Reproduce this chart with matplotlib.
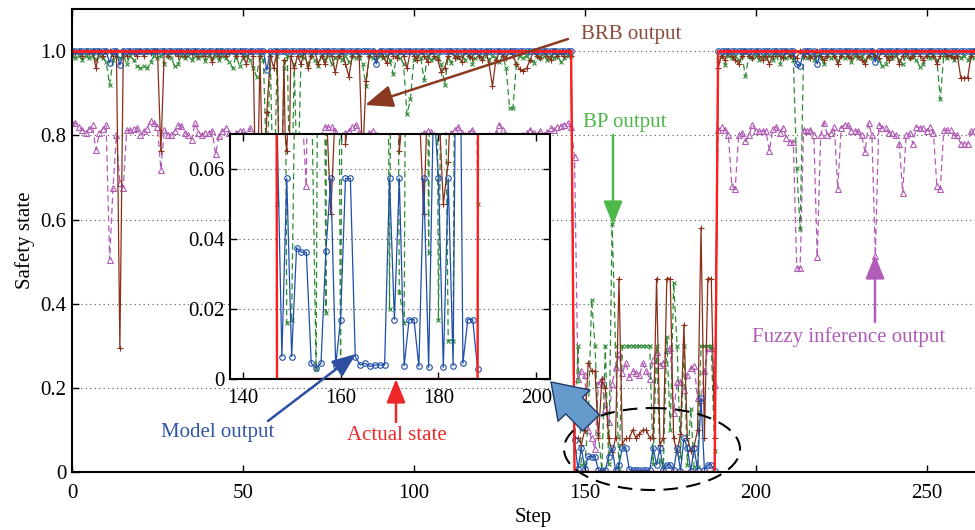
import numpy as np
import matplotlib
matplotlib.use('Agg')
import matplotlib.pyplot as plt
from matplotlib.patches import Ellipse

plt.rcParams['font.family'] = ['Liberation Serif', 'DejaVu Serif']

# data, one value per step (0..264)
# each series is split: before the fault (0-146), fault (147-188), after (189-264)
actual_a = [1] * 147
actual_b = [0] * 42
actual_c = [1] * 76

model_a = [1, 1, 1, 1, 1, 1, 1, 1, 1, 1, 1, .973, 1, 1, .967, 1, 1, 1, 1, 1,
           1, 1, 1, 1, 1, 1, 1, 1, 1, 1, 1, 1, 1, 1, 1, 1, 1, 1, 1, 1,
           1, 1, 1, 1, 1, 1, 1, 1, 1, 1, 1, 1, 1, 1, 1, 1, 1, .955, 1, 1,
           1, 1, 1, 1, 1, 1, 1, 1, 1, 1, 1, 1, 1, 1, 1, 1, 1, 1, 1, 1,
           1, 1, 1, 1, 1, 1, 1, 1, 1, .97, 1, 1, 1, 1, 1, 1, 1, 1, 1, 1,
           1, 1, 1, 1, 1, 1, 1, 1, 1, 1, 1, 1, 1, 1, 1, 1, 1, 1, 1, 1,
           1, 1, 1, 1, 1, 1, 1, 1, 1, 1, 1, 1, 1, 1, 1, 1, 1, 1, 1, 1,
           1, 1, 1, 1, 1, 1, 1]
model_b = [.075, .0064, .0573, .0064, .0375, .0362, .0362, .0045, .0031, .0045,
           .0367, .0573, .0038, .017, .0573, .0573, .0064, .004, .0045, .0036,
           .004, .004, .004, .0573, .017, .0573, .0038, .017, .017, .0036,
           .0573, .0033, .08, .0573, .0033, .0573, .0038, .175, .0045, .017,
           .017, .003]
model_c = [1, 1, 1, 1, 1, 1, 1, 1, 1, 1, 1, 1, 1, 1, 1, 1, 1, 1, 1, 1,
           1, 1, 1, .969, .965, 1, 1, 1, 1, .97, 1, 1, 1, 1, 1, 1, 1, 1, 1, 1,
           1, 1, 1, 1, 1, 1, .975, 1, 1, 1, 1, 1, 1, 1, 1, 1, 1, 1, 1, 1,
           1, 1, 1, 1, 1, 1, 1, 1, 1, 1, 1, 1, 1, 1, 1, 1]

brb_a = [1, .995, 1, .99, 1, .995, 1, .961, 1, .99,
         1, 1, .99, 1, .295, 1, .99, 1, .995, .99,
         1, .99, 1, .995, 1, 1, .762, 1, .99, 1,
         .995, .99, 1, .99, 1, .993, 1, .99, 1, .99,
         1, .975, 1, .99, 1, .99, .995, 1, .99, 1,
         .99, .97, 1, .99, .55, .99, .6, .856, .99, .961,
         1, .5, .98, .45, .99, .96, .99, .97, 1, .96,
         .99, 1, .97, .99, .97, 1, .99, .95, .99, 1,
         .97, .94, .99, 1, .99, .74, .93, .99, 1, .99,
         1, .99, .972, 1, .99, .985, 1, .99, .96, 1,
         .99, .98, 1, .99, .975, 1, .99, .98, .95, .96,
         .99, 1, .985, .99, .975, 1, .99, .985, 1, .99,
         .98, 1, .97, .917, .98, 1, .99, .985, 1, .99,
         .97, .957, .953, .96, .98, 1, .99, .985, 1, .99,
         .98, 1, .99, .995, .99, 1, .99]
brb_b = [.08, .08, .065, .1, .26, .24, .24, .08, .22, .2,
         .08, .047, .08, .46, .067, .08, .08, .1, .08, .09,
         .1, .1, .08, .08, .46, .065, .08, .46, .46, .08,
         .047, .09, .35, .08, .05, .062, .1, .58, .08, .46,
         .46, .08]
brb_c = [.96, .99, .98, 1, .99, .98, .97, .99, 1, .99,
         .985, 1, .99, .98, .99, .97, .99, 1, .99, .985,
         1, .99, .99, .985, 1, .99, 1, .985, .99, 1,
         .99, .98, .99, 1, .99, .97, .99, 1, .99, .985,
         1, .99, .98, .97, .99, 1, .99, .985, 1, .99,
         .98, .99, 1, .97, .99, 1, .985, .99, 1, .99,
         .98, .99, 1, .99, .97, .99, 1, .99, .99, .985,
         .99, .937, .937, .937, .99, 1]

bp_a = [.99, .985, .99, .98, .99, .985, .99, .98, .99, .985,
        .975, .92, .98, .99, .985, .99, .97, .99, .98, .965,
        .96, .965, .96, .975, .99, .985, .99, .97, .99, .985,
        .965, .97, .99, .985, .99, .98, .99, .985, .99, .977,
        .99, .985, .99, .98, .99, .985, .975, .96, .99, .965,
        .985, .99, .98, .96, .94, .99, .98, .7, .99, .6,
        .99, .55, .96, .99, .5, .97, .65, .99, .985, .97,
        .99, .98, .965, .99, .98, .99, .97, .985, .99, .98,
        .99, .975, .99, .985, .99, .97, .917, .99, .985, .98,
        .99, .985, .99, .98, .946, .99, .985, .97, .85, .886,
        .98, .99, .985, .933, .99, .98, .985, .99, .97, .92,
        .985, .973, .99, .985, .99, .98, .99, .97, .985, .99,
        .985, .99, .98, .99, .985, .975, .99, .96, .866, .866,
        .97, .99, .985, .99, .98, .973, .99, .985, .99, .98,
        .99, .985, .99, .975, .985, .99, .99]
bp_b = [.05, .3, .016, .017, .12, .41, .3, .09, .003, .3,
        .019, .59, .3, .002, .3, .3, .3, .3, .3, .3,
        .3, .3, .3, .02, .3, .025, .016, .32, .1, .45,
        .3, .036, .3, .017, .15, .011, .011, .3, .3, .3,
        .3, .05]
bp_c = [.98, .99, .968, .99, .985, .99, .98, .99, .941, .99,
        .985, .99, .98, .99, .985, .99, .98, .99, .97, .99,
        .985, .99, .98, .723, .578, .99, .985, .99, .98, .99,
        .985, .97, .99, .985, .99, .98, .99, .985, .99, .975,
        .99, .985, .99, .98, .99, .985, .99, .98, .965, .97,
        .99, .985, .99, .98, .97, .99, .985, .99, .98, .963,
        .97, .99, .985, .99, .98, .886, .99, .985, .99, .98,
        .99, .985, .99, .98, .99, .985]

fuzzy_a = [.83, .83, .82, .814, .806, .815, .824, .766, .805, .816,
           .824, .505, .676, .802, .687, .676, .812, .812, .815, .818,
           .802, .81, .816, .835, .83, .82, .719, .814, .802, .802,
           .81, .824, .823, .806, .8, .79, .83, .806, .802, .805,
           .805, .81, .755, .798, .81, .818, .806, .798, .806, .81,
           .81, .8, .818, .8, .798, .795, .796, .795, .798, .795,
           .797, .795, .796, .798, .795, .797, .795, .796, .798, .795,
           .797, .796, .798, .8, .821, .82, .821, .81, .798, .8,
           .805, .81, .82, .826, .808, .8, .798, .805, .81, .8,
           .796, .798, .795, .797, .796, .798, .795, .797, .796, .795,
           .798, .797, .8, .805, .81, .808, .8, .797, .798, .8,
           .797, .805, .814, .82, .806, .8, .805, .813, .8, .797,
           .798, .796, .8, .798, .805, .826, .814, .8, .797, .798,
           .796, .798, .8, .805, .814, .805, .8, .81, .802, .808,
           .818, .814, .82, .822, .826, .83, .82]
fuzzy_b = [.75, .22, .24, .23, .1, .08, .055, .21, .22, .15,
           .12, .21, .25, .28, .235, .26, .225, .24, .235, .23,
           .258, .24, .22, .266, .285, .255, .26, .29, .295, .14,
           .215, .215, .196, .23, .247, .253, .175, .17, .24, .295,
           .295, .207]
fuzzy_c = [.814, .82, .814, .802, .68, .673, .8, .806, .786, .8,
           .826, .81, .81, .81, .81, .763, .815, .82, .806, .818,
           .795, .785, .785, .485, .485, .814, .81, .814, .8, .511,
           .8, .83, .8, .806, .82, .673, .818, .826, .826, .81,
           .81, .81, .8, .76, .83, .8, .514, .826, .818, .818,
           .806, .806, .8, .78, .664, .8, .806, .78, .82, .818,
           .818, .81, .82, .806, .68, .673, .812, .812, .812, .8,
           .8, .78, .78, .78, .81, .81]

actual = actual_a + actual_b + actual_c
model = model_a + model_b + model_c
brb = brb_a + brb_b + brb_c
bp = bp_a + bp_b + bp_c
fuzzy = fuzzy_a + fuzzy_b + fuzzy_c
step = np.arange(len(actual))

c_red = '#FF1E1E'
c_blue = '#1F4FA8'
c_green = '#2E8B34'
c_brown = '#8B2E1A'
c_purple = '#B15CB5'


def draw_series(a):
    a.plot(step, fuzzy, color=c_purple, lw=0.9, dashes=(5, 3), marker='^',
           mfc='none', mec=c_purple, ms=5, mew=0.8)
    a.plot(step, bp, color=c_green, lw=0.9, dashes=(5, 3), marker='x', ms=2.5, mew=0.8)
    a.plot(step, brb, '-', color=c_brown, lw=0.9, marker='+', ms=5, mew=0.8)
    a.plot(step, model, '-', color=c_blue, lw=0.9, marker='o', mfc='none',
           mec=c_blue, ms=4, mew=0.8)
    a.plot(step, actual, '-', color=c_red, lw=1.7, marker='.', ms=2.5)


def style_axes(a, pad=4):
    a.tick_params(direction='in', top=True, right=True, length=5, width=1,
                  labelsize=15, pad=pad)
    for s in a.spines.values():
        s.set_linewidth(1.5)
    a.yaxis.grid(True, linestyle=(0, (1, 3)), color='#555555', lw=0.8)
    a.set_axisbelow(True)


fig = plt.figure(figsize=(9.75, 5.3), dpi=100)

# main axes (right edge runs past the figure like in the original)
ax = fig.add_axes([72 / 975, 58 / 530, 923 / 975, 462.7 / 530])
draw_series(ax)
ax.set_xlim(0, 270)
ax.set_ylim(0, 1.1)
ax.set_xticks([0, 50, 100, 150, 200, 250])
ax.set_yticks([0, 0.2, 0.4, 0.6, 0.8, 1.0])
ax.set_yticklabels(['0', '0.2', '0.4', '0.6', '0.8', '1.0'])
style_axes(ax)
ax.tick_params(axis='x', pad=9)
ax.set_xlabel('Step', fontsize=15, labelpad=3)
ax.set_ylabel('Safety state', fontsize=15, labelpad=4)

# zoomed inset
axin = fig.add_axes([230 / 975, 151 / 530, 320 / 975, 245 / 530])
draw_series(axin)
axin.set_xlim(137.4, 202.8)
axin.set_ylim(0, 0.07)
axin.set_xticks([140, 160, 180, 200])
axin.set_yticks([0, 0.02, 0.04, 0.06])
axin.set_yticklabels(['0', '0.02', '0.04', '0.06'])
style_axes(axin)
axin.tick_params(axis='x', pad=7)

# overlay in pixel coords for the call-outs
ov = fig.add_axes([0, 0, 1, 1], facecolor='none')
ov.set_xlim(0, 975)
ov.set_ylim(530, 0)
ov.axis('off')


def callout(txt, tx, ty, x0, y0, x1, y1, tcol, acol, hl=0.8, hw=0.32, ms=18):
    ov.text(tx, ty, txt, color=tcol, fontsize=15, ha='center', va='center')
    ov.annotate('', xy=(x1, y1), xytext=(x0, y0),
                arrowprops=dict(arrowstyle='-|>,head_length=%s,head_width=%s' % (hl, hw),
                                color=acol, lw=1.8, mutation_scale=ms,
                                shrinkA=0, shrinkB=0))


callout('BRB output', 631, 34, 568, 39, 365, 105, '#8B4A3A', '#8B3A22', 0.95, 0.38)
callout('BP output', 625, 122, 613, 135, 613, 225, '#4DB848', '#4DB848')
callout('Fuzzy inference output', 849, 337, 875, 322, 875, 255, '#B05CB8', '#B05CB8')
callout('Model output', 218, 432, 268, 421, 356, 354, '#3355A5', '#2E4FA0')
callout('Actual state', 397, 436, 396, 422, 396, 379, '#EE2828', '#EE2828')

# fat blue arrow pointing at the inset
ov.annotate('', xy=(551, 382), xytext=(591, 423),
            arrowprops=dict(arrowstyle='simple,head_length=0.85,head_width=1.15,tail_width=0.6',
                            mutation_scale=28, fc='#6699CC', ec='#1F3866', lw=1,
                            shrinkA=0, shrinkB=0))

ov.add_patch(Ellipse((652, 449), 176, 82, fill=False, ec='black', lw=1.5,
                     ls=(0, (7, 4))))

fig.savefig('out.png', dpi=100)
